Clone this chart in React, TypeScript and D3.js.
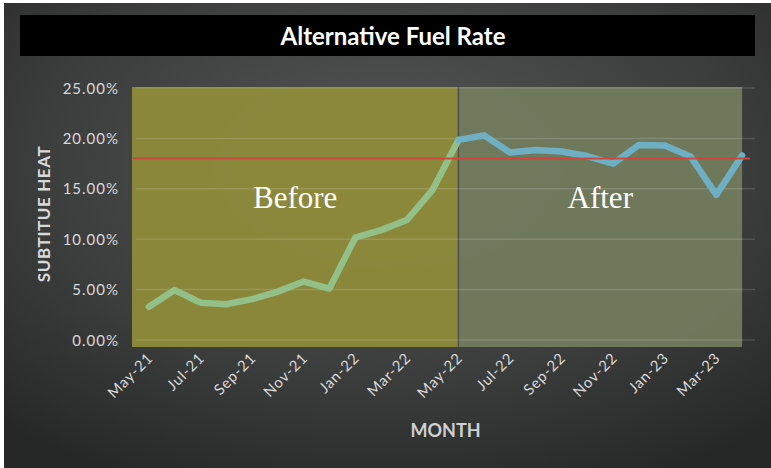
import React from 'react'
import * as d3 from 'd3'

const months = [
  'May-21', 'Jun-21', 'Jul-21', 'Aug-21', 'Sep-21', 'Oct-21', 'Nov-21', 'Dec-21',
  'Jan-22', 'Feb-22', 'Mar-22', 'Apr-22', 'May-22', 'Jun-22', 'Jul-22', 'Aug-22',
  'Sep-22', 'Oct-22', 'Nov-22', 'Dec-22', 'Jan-23', 'Feb-23', 'Mar-23', 'Apr-23',
]
const rate = [
  3.3, 4.95, 3.7, 3.55, 4.05, 4.8, 5.8, 5.1,
  10.15, 10.9, 11.9, 14.9, 19.85, 20.3, 18.6, 18.85,
  18.7, 18.25, 17.5, 19.35, 19.3, 18.2, 14.4, 18.3,
]
const yTicks = [0, 5, 10, 15, 20, 25]
const xLabels = ['May-21', 'Jul-21', 'Sep-21', 'Nov-21', 'Jan-22', 'Mar-22', 'May-22', 'Jul-22', 'Sep-22', 'Nov-22', 'Jan-23', 'Mar-23']
const target = 18
const splitMonth = 'May-22'

const W = 771
const H = 468
const margin = { top: 88, right: 16, bottom: 128, left: 136 }
const sans = "Lato, 'Open Sans', sans-serif"
const serif = "'Liberation Serif', 'DejaVu Serif', serif"

export default function App() {
  const x = d3.scalePoint<string>().domain(months).range([margin.left, W - margin.right]).padding(0.5)
  const y = d3.scaleLinear().domain([0, 25]).range([H - margin.bottom, margin.top])

  const splitIdx = months.indexOf(splitMonth)
  const xSplit = x(splitMonth)!
  const xLast = x(months[months.length - 1])!
  const beforeLine = d3.line<number>().x((_, i) => x(months[i])!).y((d) => y(d))
  const afterLine = d3.line<number>().x((_, i) => x(months[i + splitIdx])!).y((d) => y(d))
  const beforeD = beforeLine(rate.slice(0, splitIdx + 1))!
  const afterD = afterLine(rate.slice(splitIdx))!

  const rectTop = y(25) - 1
  const rectBot = y(0) + 7
  const beforeLeft = margin.left - 4

  return (
    <svg width={W} height={H} style={{ position: 'absolute', left: 0, top: 0 }}>
      <defs>
        <radialGradient id="bg" cx="0.5" cy="0.35" r="0.75">
          <stop offset="0" stopColor="#555656" />
          <stop offset="0.6" stopColor="#3c3d3d" />
          <stop offset="1" stopColor="#262727" />
        </radialGradient>
      </defs>
      <rect x={0} y={0} width={W} height={H} fill="#ffffff" />
      <rect x={4} y={3} width={W - 4} height={H - 3} fill="url(#bg)" />

      {/* title bar */}
      <rect x={20} y={15} width={735} height={41} fill="#000" />
      <text x={393} y={45} textAnchor="middle" fill="#fff" fontFamily={sans} fontWeight={700} fontSize={24}>
        Alternative Fuel Rate
      </text>

      {/* shaded periods */}
      <rect x={beforeLeft} y={rectTop} width={xSplit - beforeLeft} height={rectBot - rectTop} fill="#8e8b3b" fillOpacity={0.95} />
      <rect x={xSplit} y={rectTop} width={xLast - xSplit} height={rectBot - rectTop} fill="#737b5e" fillOpacity={0.95} />
      <line x1={xSplit} x2={xSplit} y1={rectTop} y2={rectBot} stroke="#505050" strokeWidth={1.5} />

      {/* grid */}
      {yTicks.map((t) => (
        <line key={t} x1={margin.left} x2={W - margin.right} y1={y(t)} y2={y(t)} stroke="#ffffff" strokeOpacity={0.13} strokeWidth={1.5} />
      ))}

      {/* y axis */}
      {yTicks.map((t) => (
        <text key={t} x={119} y={y(t) + 5.5} textAnchor="end" fill="#d9d9d9" fontFamily={sans} fontSize={15} letterSpacing={1}>
          {t.toFixed(2)}%
        </text>
      ))}
      <text transform={`translate(50,${(y(0) + y(25)) / 2}) rotate(-90)`} textAnchor="middle" fill="#d9d9d9" fontFamily={sans} fontWeight={700} fontSize={17} letterSpacing={0.6}>
        SUBTITUE HEAT
      </text>

      {/* x axis */}
      {xLabels.map((m) => (
        <text key={m} transform={`translate(${x(m)! + 5},${y(0) + 19}) rotate(-45)`} textAnchor="end" fill="#d9d9d9" fontFamily={sans} fontSize={15} letterSpacing={0.8}>
          {m}
        </text>
      ))}
      <text x={(margin.left + W - margin.right) / 2} y={437} textAnchor="middle" fill="#d0d0d0" fontFamily={sans} fontWeight={700} fontSize={18}>
        MONTH
      </text>

      {/* period labels */}
      <text x={(beforeLeft + xSplit) / 2} y={208} textAnchor="middle" fill="#fff" fontFamily={serif} fontSize={31}>
        Before
      </text>
      <text x={(xSplit + xLast) / 2} y={208} textAnchor="middle" fill="#fff" fontFamily={serif} fontSize={31}>
        After
      </text>

      {/* series */}
      <path d={beforeD} fill="none" stroke="#93c38c" strokeWidth={6.5} strokeLinejoin="round" strokeLinecap="round" strokeOpacity={0.95} />
      <path d={afterD} fill="none" stroke="#6fb2c9" strokeWidth={6.5} strokeLinejoin="round" strokeLinecap="round" strokeOpacity={0.95} />

      {/* target */}
      <line x1={margin.left - 3} x2={W - 21} y1={y(target)} y2={y(target)} stroke="#c9483f" strokeWidth={2} />
    </svg>
  )
}
